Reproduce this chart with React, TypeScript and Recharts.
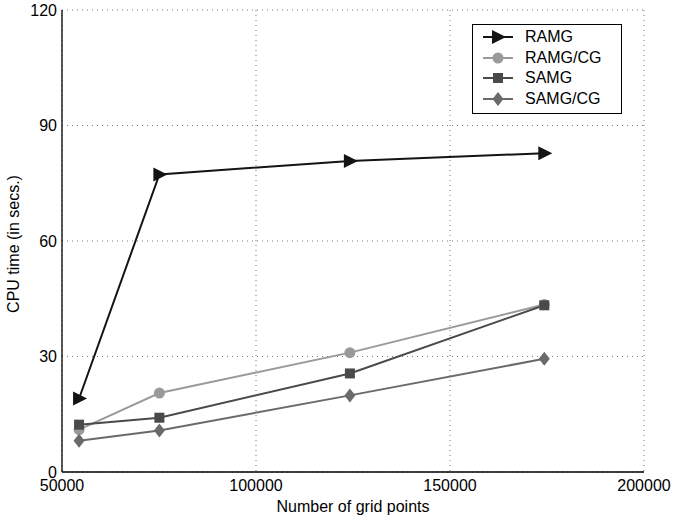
import React from 'react';
import {
  CartesianGrid,
  Line,
  LineChart,
  XAxis,
  YAxis,
} from 'recharts';

const gridPoints = [54400, 75100, 124200, 174300];
const ramg = [19.1, 77.3, 80.8, 82.8];
const ramgCg = [11.0, 20.5, 31.0, 43.5];
const samg = [12.3, 14.1, 25.6, 43.3];
const samgCg = [8.1, 10.8, 19.9, 29.4];

const xTicks = [50000, 100000, 150000, 200000];
const yTicks = [0, 30, 60, 90, 120];

const FONT = '"Liberation Sans", Arial, Helvetica, sans-serif';

const data = gridPoints.map((x, i) => ({
  x,
  ramg: ramg[i],
  ramgCg: ramgCg[i],
  samg: samg[i],
  samgCg: samgCg[i],
}));

type MarkerKind = 'triangle' | 'circle' | 'square' | 'diamond';

const series: { key: string; name: string; color: string; marker: MarkerKind }[] = [
  { key: 'ramg', name: 'RAMG', color: '#141414', marker: 'triangle' },
  { key: 'ramgCg', name: 'RAMG/CG', color: '#9a9a9a', marker: 'circle' },
  { key: 'samg', name: 'SAMG', color: '#4a4a4a', marker: 'square' },
  { key: 'samgCg', name: 'SAMG/CG', color: '#6a6a6a', marker: 'diamond' },
];

function Marker({ kind, cx, cy, color }: { kind: MarkerKind; cx: number; cy: number; color: string }) {
  if (kind === 'triangle') {
    return <polygon points={`${cx - 6},${cy - 7} ${cx + 8},${cy} ${cx - 6},${cy + 7}`} fill={color} />;
  }
  if (kind === 'circle') {
    return <circle cx={cx} cy={cy} r={5.5} fill={color} />;
  }
  if (kind === 'square') {
    return <rect x={cx - 5} y={cy - 5} width={10} height={10} fill={color} />;
  }
  return <polygon points={`${cx},${cy - 7} ${cx + 5.5},${cy} ${cx},${cy + 7} ${cx - 5.5},${cy}`} fill={color} />;
}

function makeDot(kind: MarkerKind, color: string) {
  return (props: any) => {
    const { cx, cy, index } = props;
    if (cx == null || cy == null) return <g key={index} />;
    return <Marker key={index} kind={kind} cx={cx} cy={cy} color={color} />;
  };
}

// legend drawn as an overlay so it does not eat plot height
function LegendBox() {
  return (
    <div
      style={{
        position: 'absolute',
        left: 472,
        top: 24,
        width: 148,
        height: 86,
        paddingTop: 2,
        border: '1px solid #000',
        background: '#fff',
        fontFamily: FONT,
        fontSize: 16,
      }}
    >
      {series.map((s) => (
        <div key={s.key} style={{ display: 'flex', alignItems: 'center', height: 20.5 }}>
          <svg width={50} height={20} style={{ marginLeft: 2 }}>
            <line x1={8} x2={38} y1={10} y2={10} stroke={s.color} strokeWidth={2} />
            <Marker kind={s.marker} cx={23} cy={10} color={s.color} />
          </svg>
          <span style={{ color: '#000' }}>{s.name}</span>
        </div>
      ))}
    </div>
  );
}

function YLabel() {
  return (
    <text
      x={13}
      y={244}
      transform="rotate(-90 13 244)"
      textAnchor="middle"
      dominantBaseline="central"
      fontFamily={FONT}
      fontSize={16}
      fill="#000"
    >
      CPU time (in secs.)
    </text>
  );
}

export default function App() {
  const tickStyle = { fill: '#000', fontSize: 16, fontFamily: FONT };
  return (
    <div style={{ position: 'absolute', left: 0, top: 0, width: 676, height: 520, background: '#fff' }}>
      <LineChart width={676} height={520} data={data} margin={{ top: 10, right: 32, bottom: 0, left: 0 }}>
        <CartesianGrid stroke="#777" strokeDasharray="1 4" />
        <XAxis
          dataKey="x"
          type="number"
          domain={[50000, 200000]}
          ticks={xTicks}
          height={48}
          tickLine={false}
          tickSize={8}
          tickMargin={0}
          tick={tickStyle}
          axisLine={{ stroke: '#000', strokeWidth: 1.3 }}
          label={{ value: 'Number of grid points', position: 'insideBottom', offset: 8, fill: '#000', fontSize: 16, fontFamily: FONT }}
        />
        <XAxis
          xAxisId="top"
          orientation="top"
          type="number"
          domain={[50000, 200000]}
          ticks={xTicks}
          height={0}
          tick={false}
          mirror
          tickSize={5}
          tickLine={{ stroke: '#000' }}
          axisLine={{ stroke: '#000', strokeWidth: 1.3 }}
        />
        <YAxis
          type="number"
          domain={[0, 120]}
          ticks={yTicks}
          width={62}
          tickLine={false}
          tickSize={5}
          tickMargin={0}
          tick={tickStyle}
          axisLine={{ stroke: '#000', strokeWidth: 1.3 }}
          label={<YLabel />}
        />
        <YAxis
          yAxisId="right"
          orientation="right"
          type="number"
          domain={[0, 120]}
          ticks={yTicks}
          width={0}
          tick={false}
          mirror
          tickSize={5}
          tickLine={{ stroke: '#000' }}
          axisLine={{ stroke: '#000', strokeWidth: 1.3 }}
        />
        {series.map((s) => (
          <Line
            key={s.key}
            type="linear"
            dataKey={s.key}
            name={s.name}
            stroke={s.color}
            strokeWidth={2}
            dot={makeDot(s.marker, s.color)}
            activeDot={false}
            isAnimationActive={false}
          />
        ))}
      </LineChart>
      <LegendBox />
    </div>
  );
}
